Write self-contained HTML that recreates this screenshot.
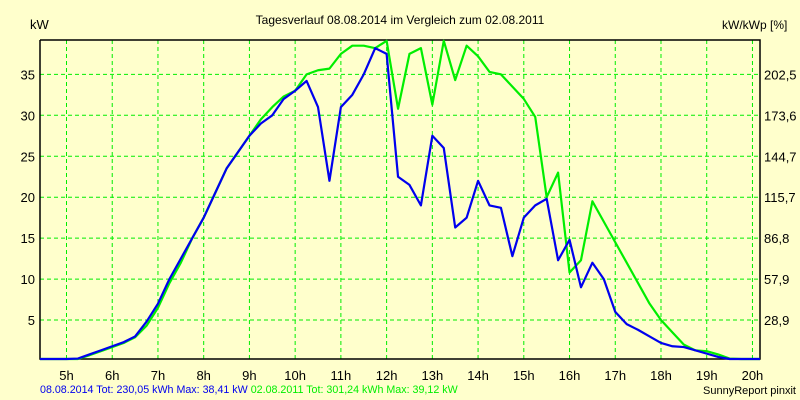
<!DOCTYPE html>
<html><head><meta charset="utf-8"><style>
body{margin:0;background:#ffffcc;}
svg{display:block;font-family:"Liberation Sans",sans-serif;}
</style></head><body>
<svg id="c" width="800" height="400">
<rect width="800" height="400" fill="#ffffcc"/>
</svg>
<script>
const hourLabels=["5h","6h","7h","8h","9h","10h","11h","12h","13h","14h","15h","16h","17h","18h","19h","20h"];
const yTicks=[5,10,15,20,25,30,35];
const rightTicks=["28,9","57,9","86,8","115,7","144,7","173,6","202,5"];
// 15-min steps from 5:00 to 20:00
const blue=[0,0.3,0.8,1.3,1.8,2.3,3.0,4.8,7,10,12.5,15,17.5,20.5,23.5,25.5,27.5,29,30,32,33,34.2,31,22,31,32.5,35,38.2,37.5,22.5,21.5,19,27.5,26,16.3,17.5,22,19,18.7,12.8,17.5,19,19.8,12.3,14.8,9,12,10,6,4.5,3.8,3,2.2,1.8,1.7,1.3,0.9,0.5,0.2,0.1,0];
const green=[0,0.2,0.7,1.2,1.7,2.2,2.9,4.3,6.5,9.5,12,15,17.5,20.5,23.5,25.5,27.5,29.5,31,32.3,33,35,35.5,35.7,37.5,38.5,38.5,38.2,39.1,30.8,37.5,38.2,31.3,39.1,34.3,38.5,37.2,35.3,35,33.5,32,29.8,20,23,10.8,12.3,19.5,17,14.5,12,9.5,7,5,3.5,2,1.3,1.2,0.8,0.3,0,0];
const NS="http://www.w3.org/2000/svg",svg=document.getElementById('c');
const L=40,R=760,T=40,B=359;
const xh=h=>66.5+45.73*(h-5);
const yv=v=>Math.min(B,361-8.19*v);
function mk(tag,attrs,txt){const e=document.createElementNS(NS,tag);for(const k in attrs)e.setAttribute(k,attrs[k]);if(txt!==undefined)e.textContent=txt;svg.appendChild(e);return e;}
hourLabels.forEach((lab,i)=>{const x=xh(5+i);
 let g=mk('line',{x1:x,x2:x,y1:T,y2:B,stroke:'#00ee00','stroke-dasharray':'4,3'});
 
 let t=mk('text',{x:x,y:380,'text-anchor':'middle','font-size':13},lab);
 });
yTicks.forEach((v,i)=>{const y=yv(v);
 let g=mk('line',{x1:L,x2:R,y1:y,y2:y,stroke:'#00ee00','stroke-dasharray':'4,3'});
 
 let t=mk('text',{x:35,y:y+5,'text-anchor':'end','font-size':13},String(v));
 
 let r=mk('text',{x:764,y:y+5,'font-size':13},rightTicks[i]);
 });
let ax=mk('polyline',{points:`${L},${T} ${L},${B} ${R},${B} ${R},${T} ${L},${T}`,fill:'none',stroke:'#000','stroke-width':1.5});

function series(arr,col,name){
 const pts=[[L,B]].concat(arr.map((v,i)=>[xh(5+i*0.25),yv(v)]));
 pts.push([R,B]);
 const p=mk('polyline',{points:pts.map(p=>p.join(',')).join(' '),fill:'none',stroke:col,'stroke-width':2.2,'stroke-linejoin':'round'});
 }
series(green,'#00ee00','series-2011');
series(blue,'#0000ee','series-2014');
const texts=[[400,24,'middle',12,'#000','Tagesverlauf 08.08.2014 im Vergleich zum 02.08.2011','chart-title'],
 [30,29,'start',13,'#000','kW','y-axis-title'],
 [722,29,'start',12,'#000','kW/kWp [%]','right-axis-title'],
 [796,394,'end',11,'#000','SunnyReport pinxit','credit']];
texts.forEach(a=>{const t=mk('text',{x:a[0],y:a[1],'text-anchor':a[2],'font-size':a[3],fill:a[4]},a[5]);
 });
const lg=mk('text',{x:40,y:393,'font-size':10.7});

const s1=document.createElementNS(NS,'tspan');s1.setAttribute('fill','#0000ee');s1.textContent='08.08.2014 Tot: 230,05 kWh Max: 38,41 kW ';
lg.appendChild(s1);
const s2=document.createElementNS(NS,'tspan');s2.setAttribute('fill','#00ee00');s2.textContent='02.08.2011 Tot: 301,24 kWh Max: 39,12 kW';
lg.appendChild(s2);
</script>
</body></html>
